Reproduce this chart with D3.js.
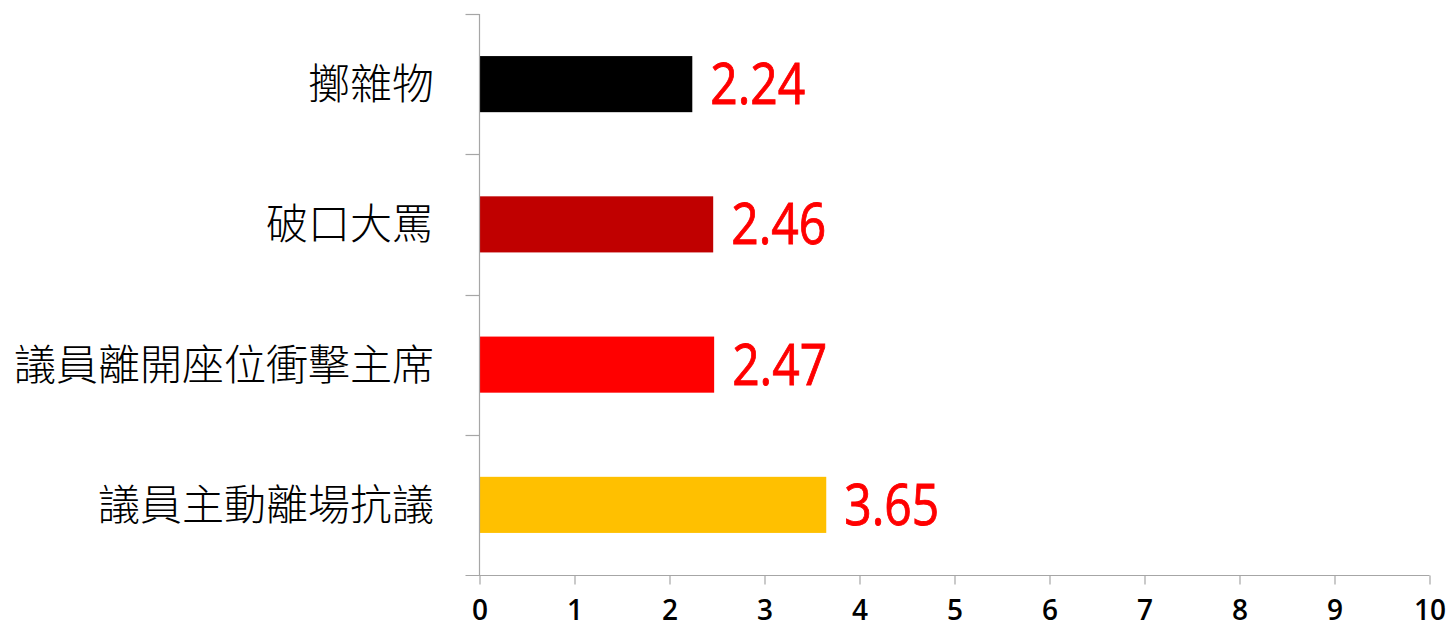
<!DOCTYPE html>
<html>
<head>
<meta charset="utf-8">
<script src="https://cdn.jsdelivr.net/npm/d3@7"></script>
<style>
  html, body { margin: 0; padding: 0; background: #fff; }
  svg { display: block; }
</style>
</head>
<body>
<svg id="chart" width="1449" height="625"></svg>
<script>
const categories = ["擲雜物", "破口大罵", "議員離開座位衝擊主席", "議員主動離場抗議"];
const values = [2.24, 2.46, 2.47, 3.65];
const colors = ["#000000", "#C00000", "#FF0000", "#FFC000"];
const xTicks = [0, 1, 2, 3, 4, 5, 6, 7, 8, 9, 10];

const svg = d3.select("#chart");
const x = d3.scaleLinear().domain([0, 10]).range([479.5, 1429.5]);
const y = d3.scaleBand().domain(categories).range([14, 575]).paddingInner(0.6).paddingOuter(0.3);
const axisColor = "#A6A6A6";

// bars
svg.selectAll("rect.bar").data(values).join("rect")
  .attr("class", "bar")
  .attr("x", x(0))
  .attr("y", (d, i) => y(categories[i]))
  .attr("width", d => x(d) - x(0))
  .attr("height", y.bandwidth())
  .attr("fill", (d, i) => colors[i]);

// x axis
const xAxis = svg.append("g").attr("transform", "translate(0,575.5)")
  .call(d3.axisBottom(x).tickValues(xTicks).tickSize(9).tickPadding(16).tickFormat(d3.format("d")));
xAxis.select(".domain").attr("stroke", axisColor).attr("stroke-width", 1.2)
  .attr("d", `M${x(0)-14},0H${x(10)}`);
xAxis.selectAll(".tick line").attr("stroke", axisColor).attr("stroke-width", 1.2);
xAxis.selectAll(".tick text").attr("fill", "#000")
  .style("font-family", "'Open Sans', sans-serif")
  .style("font-size", "28px").style("font-weight", 600);

// y axis line with boundary ticks
const yAxisG = svg.append("g");
yAxisG.append("line").attr("x1", x(0)).attr("x2", x(0)).attr("y1", 14).attr("y2", 575.5)
  .attr("stroke", axisColor).attr("stroke-width", 1.2);
const step = y.step();
const bounds = d3.range(categories.length).map(i => y(categories[i]) - step * y.paddingInner() / 2);
yAxisG.selectAll("line.tk").data(bounds).join("line").attr("class", "tk")
  .attr("x1", x(0) - 14).attr("x2", x(0)).attr("y1", d => Math.round(d) + 0.5).attr("y2", d => Math.round(d) + 0.5)
  .attr("stroke", axisColor).attr("stroke-width", 1.2);

// category labels
svg.selectAll("text.cat").data(categories).join("text")
  .attr("class", "cat")
  .attr("x", 434)
  .attr("y", d => y(d) + y.bandwidth() / 2)
  .attr("dy", "0.36em")
  .attr("text-anchor", "end")
  .style("font-family", "'Noto Sans CJK TC', sans-serif")
  .style("font-size", "42px")
  .style("font-weight", 300)
  .attr("fill", "#000")
  .text(d => d);

// value labels
svg.selectAll("text.val").data(values).join("text")
  .attr("class", "val")
  .attr("x", d => x(d) + 18)
  .attr("y", (d, i) => y(categories[i]) + y.bandwidth() / 2 + 20)
  .style("font-family", "'Open Sans', sans-serif")
  .style("font-size", "57px")
  .style("font-weight", 400)
  .attr("textLength", 95)
  .attr("lengthAdjust", "spacingAndGlyphs")
  .attr("fill", "#FF0000")
  .attr("stroke", "#FF0000")
  .attr("stroke-width", 0.9)
  .text(d => d.toFixed(2));
</script>
</body>
</html>
